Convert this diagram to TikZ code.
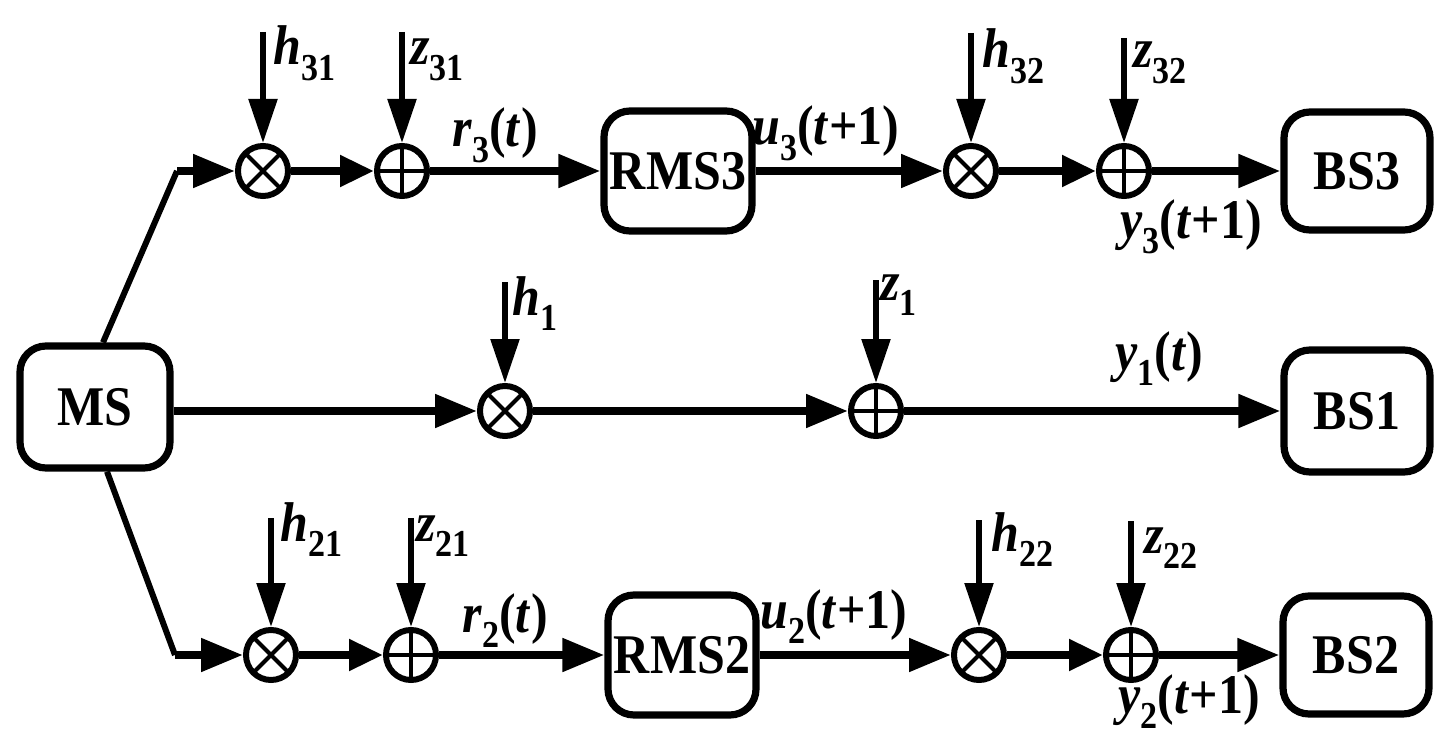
\documentclass[tikz,border=0pt]{standalone}
\usepackage{fontspec}
\setmainfont{Liberation Serif}
\usetikzlibrary{arrows.meta}
\newcommand{\vs}[1]{\scalebox{1}[1.12]{#1}}
\newcommand{\sbs}[1]{\raisebox{-0.27em}{\fontsize{17}{17}\selectfont #1}}
\newcommand{\lab}[1]{\vs{#1}}
\begin{document}
\begin{tikzpicture}[x=0.5pt,y=-0.5pt,
  box/.style={draw, line width=3.6pt, rounded corners=13pt, inner sep=0pt,
    font=\fontsize{25}{30}\selectfont\bfseries},
  rms/.style={box, minimum width=74pt, minimum height=60pt},
  bs/.style={box, minimum width=73pt, minimum height=59pt},
  mul/.style={draw, circle, line width=3pt, minimum size=25pt, inner sep=0pt,
    path picture={\draw[line width=2pt] (path picture bounding box.north west) -- (path picture bounding box.south east)
      (path picture bounding box.north east) -- (path picture bounding box.south west);}},
  add/.style={draw, circle, line width=3pt, minimum size=25pt, inner sep=0pt,
    path picture={\draw[line width=2.4pt] (path picture bounding box.north) -- (path picture bounding box.south)
      (path picture bounding box.west) -- (path picture bounding box.east);}},
  main/.style={line width=4pt, -{Triangle[length=21pt,width=16pt]}},
  short/.style={line width=4pt, -{Triangle[length=17pt,width=15pt]}},
  diag/.style={line width=3pt},
  inp/.style={line width=2.8pt, -{Triangle[length=22pt,width=14pt]}},
  lbl/.style={anchor=base west, inner sep=0pt, font=\fontsize{25}{30}\selectfont\bfseries}
]
\useasboundingbox (0,0) rectangle (1436,738);

% boxes
\node[box, minimum width=75pt, minimum height=61pt] (MS) at (95,407) {\vs{MS}};
\node[rms] (RMS3) at (678,171) {\vs{RMS3}};
\node[rms] (RMS2) at (682,655) {\vs{RMS2}};
\node[bs] (BS3) at (1357,171) {\vs{BS3}};
\node[bs, minimum height=61pt] (BS1) at (1357,411) {\vs{BS1}};
\node[bs] (BS2) at (1356,655) {\vs{BS2}};

% operators
\node[mul] (m31) at (263,171) {};
\node[add] (a31) at (402,171) {};
\node[mul] (m32) at (971,171) {};
\node[add] (a32) at (1124,171) {};
\node[mul] (m1)  at (505,411) {};
\node[add] (a1)  at (876,411) {};
\node[mul] (m21) at (271,655) {};
\node[add] (a21) at (411,655) {};
\node[mul] (m22) at (979,655) {};
\node[add] (a22) at (1131,655) {};

% input line tops
\coordinate (th31) at (263,32);
\coordinate (tz31) at (402,32);
\coordinate (th32) at (971,33);
\coordinate (tz32) at (1124,38);
\coordinate (th1)  at (505,282);
\coordinate (tz1)  at (876,280);
\coordinate (th21) at (271,518);
\coordinate (tz21) at (411,518);
\coordinate (th22) at (979,520);
\coordinate (tz22) at (1131,521);

% bends
\coordinate (b3) at (177,171);
\coordinate (b2) at (175,655);

% input arrows
\foreach \t/\n in {th31/m31,tz31/a31,th32/m32,tz32/a32,th1/m1,tz1/a1,th21/m21,tz21/a21,th22/m22,tz22/a22}
  \draw[inp] (\t) -- (\n);

% top branch
\draw[diag, line join=round] (103,0 |- MS.north) -- (b3);
\draw[main] (b3) -- (m31);
\draw[short] (m31) -- (a31);
\draw[main] (a31) -- (RMS3);
\draw[main] (RMS3) -- (m32);
\draw[short] (m32) -- (a32);
\draw[main] (a32) -- (BS3);

% middle branch
\draw[main] (MS.east |- m1) -- (m1);
\draw[main] (m1) -- (a1);
\draw[main] (a1) -- (BS1);

% bottom branch
\draw[diag, line join=round] (107,0 |- MS.south) -- (b2);
\draw[main] (b2) -- (m21);
\draw[short] (m21) -- (a21);
\draw[main] (a21) -- (RMS2);
\draw[main] (RMS2) -- (m22);
\draw[short] (m22) -- (a22);
\draw[main] (a22) -- (BS2);

% labels
\node[lbl] (Lh31) at (273,65) {\lab{\textit{h}\sbs{31}}};
\node[lbl] (Lz31) at (410,65) {\lab{\textit{z}\sbs{31}}};
\node[lbl] (Lr3)  at (452,147) {\lab{\textit{r}\sbs{3}(\textit{t})}};
\node[lbl] (Lu3)  at (752,145) {\lab{\textit{u}\sbs{3}(\textit{t}+1)}};
\node[lbl] (Lh32) at (982,68) {\lab{\textit{h}\sbs{32}}};
\node[lbl] (Lz32) at (1133,68) {\lab{\textit{z}\sbs{32}}};
\node[lbl] (Ly3)  at (1120,238) {\lab{\textit{y}\sbs{3}(\textit{t}+1)}};
\node[lbl] (Lh1)  at (512,315) {\lab{\textit{h}\sbs{1}}};
\node[lbl] (Lz1)  at (880,300) {\lab{\textit{z}\sbs{1}}};
\node[lbl] (Ly1)  at (1115,370) {\lab{\textit{y}\sbs{1}(\textit{t})}};
\node[lbl] (Lh21) at (280,541) {\lab{\textit{h}\sbs{21}}};
\node[lbl] (Lz21) at (416,541) {\lab{\textit{z}\sbs{21}}};
\node[lbl] (Lr2)  at (462,632) {\lab{\textit{r}\sbs{2}(\textit{t})}};
\node[lbl] (Lu2)  at (760,628) {\lab{\textit{u}\sbs{2}(\textit{t}+1)}};
\node[lbl] (Lh22) at (991,551) {\lab{\textit{h}\sbs{22}}};
\node[lbl] (Lz22) at (1144,553) {\lab{\textit{z}\sbs{22}}};
\node[lbl] (Ly2)  at (1118,713) {\lab{\textit{y}\sbs{2}(\textit{t}+1)}};
\end{tikzpicture}
\end{document}
